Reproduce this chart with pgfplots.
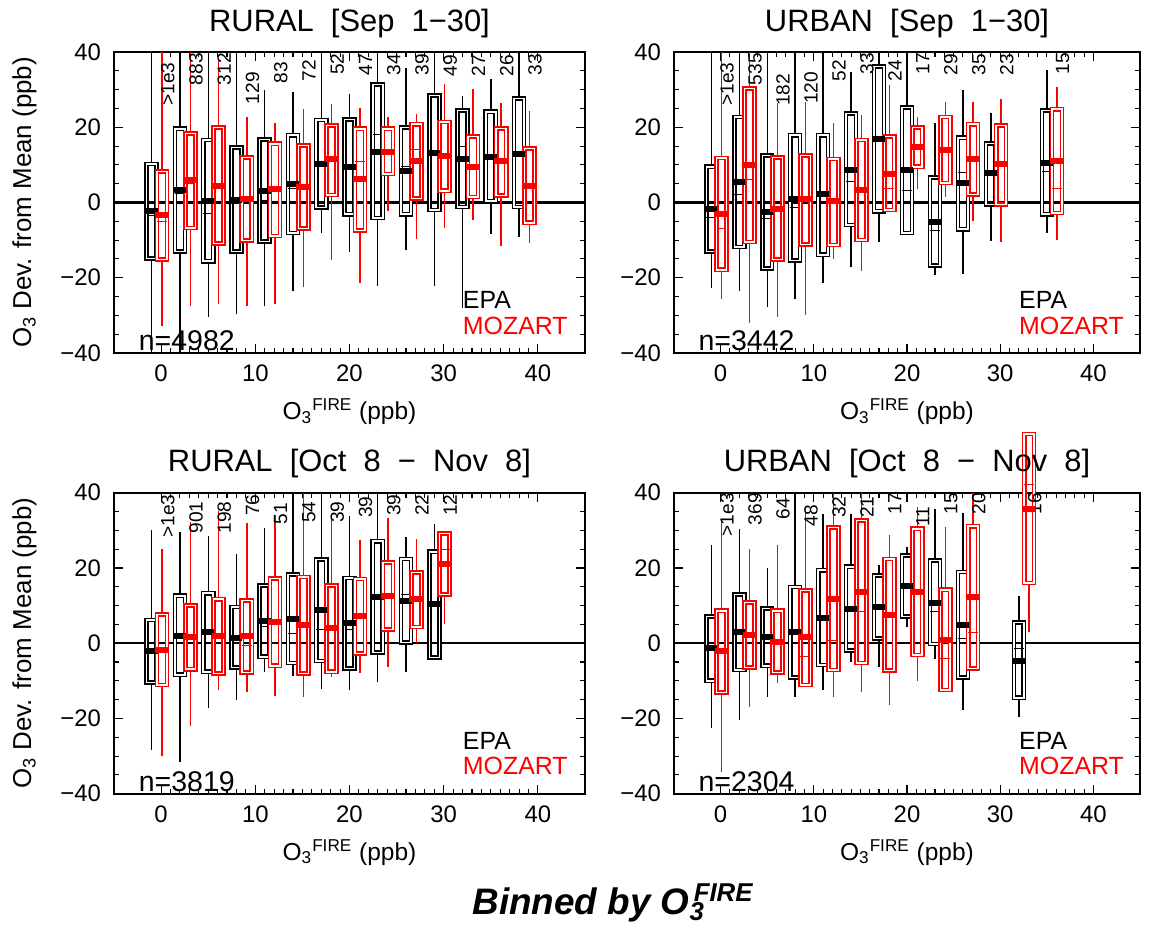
\documentclass[border=0pt]{standalone}
\usepackage{pgfplots}
\pgfplotsset{compat=1.18}
\usepackage{pgfplotstable}
\usepgfplotslibrary{statistics}
\usepackage{fontspec}
\setmainfont{Liberation Sans}

% columns: draw position, lower whisker, lower quartile, median, upper quartile, upper whisker, mean
\pgfplotstableread{
x wlo q1 med q3 whi avg
-1 -40 -14.9 -3.5 10.2 40 -2.2
2 -40 -13.0 2.4 19.6 40 3.3
5 -30.5 -15.6 -2.8 16.6 40 0.4
8 -29.6 -13.0 -0.3 14.6 40 0.6
11 -27.6 -10.3 0.6 16.8 30.0 3.1
14 -23.4 -8.1 3.7 17.9 29.5 4.9
17 -8.0 -1.3 10.2 21.9 40 10.2
20 -13.2 -3.1 9.4 22.1 28.8 9.4
23 -22.2 -4.1 18.1 31.3 40 13.4
26 -12.7 -3.1 9.5 20.0 35.7 8.5
29 -22.2 -2.0 13.2 28.5 40 13.2
32 -28.0 -1.2 14.8 24.4 28.2 11.6
35 -8.3 0.4 12.2 24.1 32.9 12.2
38 -9.2 -1.2 12.9 27.6 40 12.9
}\tAe
\pgfplotstableread{
x wlo q1 med q3 whi avg
0.1 -32.7 -15.1 -5.0 8.2 40 -3.2
3.1 -27.4 -6.8 5.0 18.3 40 6.0
6.1 -26.9 -10.9 4.0 19.9 38 4.5
9.1 -27.6 -10.1 1.0 11.9 22.8 0.8
12.1 -26.9 -8.9 3.2 15.6 21.2 3.5
15.1 -22.5 -6.9 4.2 15.2 24.9 4.2
18.1 -15.4 2.0 11.5 20.5 26.1 11.5
21.1 -21.4 -7.4 11.0 19.6 25.1 6.3
24.1 -2.2 7.6 14.0 19.6 22.8 13.5
27.1 -9.6 1.1 14.0 20.8 23.6 11.0
30.1 -6.8 3.1 12.4 21.4 31.6 12.4
33.1 -4.7 1.5 9.5 17.5 30.2 9.5
36.1 -11.6 1.9 10.9 19.7 26.4 10.9
39.1 -10.8 -5.4 4.4 14.3 24.2 4.4
}\tAm
\pgfplotstableread{
x wlo q1 med q3 whi avg
-1 -22.7 -13.0 -4.0 9.5 40 -1.8
2 -23.6 -11.8 2.0 22.7 40 5.5
5 -27.8 -17.6 -4.3 12.5 40 -2.5
8 -25.7 -15.4 -1.2 17.9 40 0.9
11 -21.3 -13.9 2.2 17.9 40 2.2
14 -17.2 -6.0 5.5 23.6 34.8 8.6
17 -10.5 -2.3 16.9 36.2 40 16.9
20 -8.7 -8.1 3.3 25.2 40 8.6
23 -19.4 -16.7 -7.4 6.7 21.1 -5.1
26 -18.9 -7.1 7.9 17.2 29.8 5.1
29 -10.3 -0.5 7.9 15.7 23.8 7.9
35 -8.1 -3.1 8.2 24.4 35.3 10.4
}\tBe
\pgfplotstableread{
x wlo q1 med q3 whi avg
0.1 -25.7 -17.9 -6.9 11.8 40 -3.1
3.1 -32.1 -10.5 6.0 30.3 40 9.9
6.1 -30.5 -15.1 -1.6 11.9 26.4 -1.6
9.1 -30.0 -11.2 0.8 12.5 26.8 0.8
12.1 -15.1 -11.3 0.3 11.6 21.1 0.3
15.1 -18.2 -10.0 3.0 16.6 23.3 3.3
18.1 -2.2 -2.0 3.7 17.5 31.1 7.7
21.1 3.7 9.5 14.8 19.9 22.7 14.8
24.1 1.5 5.2 14.0 22.7 26.8 14.0
27.1 -4.9 2.1 11.5 20.8 26.8 11.5
30.1 -10.5 -0.5 10.1 20.4 27.6 10.1
36.1 -10.0 -2.8 3.7 24.8 30.8 11.1
}\tBm
\pgfplotstableread{
x wlo q1 med q3 whi avg
-1 -28.3 -10.5 -2.0 6.2 30.2 -2.0
2 -31.7 -8.4 2.0 12.6 29.6 2.0
5 -17.3 -7.6 2.9 13.3 28.4 2.9
8 -15.1 -6.4 1.3 9.6 23.8 1.3
11 -7.6 -3.6 4.4 15.3 30.7 6.0
14 -8.6 -5.3 2.7 18.2 40 6.4
17 -12.2 -4.7 3.7 22.2 40 8.7
20 -12.4 -6.7 3.6 17.3 33.8 5.3
23 -10.2 -2.5 12.3 27.1 40 12.3
26 -7.6 0.2 12.9 22.4 28.2 11.3
29 -4.0 -3.8 10.4 24.3 31.6 10.4
}\tCe
\pgfplotstableread{
x wlo q1 med q3 whi avg
0.1 -30.0 -11.1 -1.8 7.6 25.1 -1.8
3.1 -22.0 -6.9 1.6 10.0 32.3 1.6
6.1 -12.4 -8.0 2.0 11.7 35.1 2.0
9.1 -13.1 -7.8 -0.5 11.4 32.0 2.0
12.1 -14.0 -6.0 5.6 17.2 34.0 5.6
15.1 -14.2 -8.0 4.9 17.6 40 4.9
18.1 -9.1 -7.6 4.0 15.3 34.0 4.0
21.1 -8.0 -2.7 7.1 17.1 27.3 7.1
24.1 -6.2 3.6 12.6 21.5 33.3 12.6
27.1 0.0 4.3 11.7 18.8 27.7 11.7
30.1 5.2 12.9 24.9 29.2 29.2 21.0
}\tCm
\pgfplotstableread{
x wlo q1 med q3 whi avg
-1 -22.5 -10.0 -1.3 7.1 26.0 -1.3
2 -20.3 -7.1 2.9 12.9 30.4 2.9
5 -14.2 -6.0 1.6 9.2 20.0 1.6
8 -14.2 -9.1 3.1 14.9 40 3.1
11 -12.4 -5.8 6.8 19.4 34.4 6.8
14 -4.9 -2.0 9.1 20.3 34.4 9.1
17 -6.2 1.2 9.6 18.0 20.9 9.6
20 4.4 7.1 15.1 23.3 25.6 15.1
23 -4.3 -0.2 8.4 22.0 35.6 10.7
26 -17.8 -9.1 1.3 18.9 34.7 4.9
32 -19.7 -14.5 -1.3 5.5 12.6 -4.6
}\tDe
\pgfplotstableread{
x wlo q1 med q3 whi avg
0.1 -34.2 -13.1 -2.0 8.6 33.1 -2.0
3.1 -16.9 -6.4 2.2 10.8 25.1 2.2
6.1 -10.7 -7.8 0.4 8.6 26.2 0.4
9.1 -11.1 -11.1 -3.6 14.0 36.2 1.6
12.1 -14.2 -7.1 0.7 30.8 40 11.7
15.1 -13.1 -5.3 8.3 32.6 40 13.6
18.1 -16.4 -7.3 7.4 22.4 28.8 7.4
21.1 -10.0 -3.1 13.6 30.4 36.3 13.6
24.1 -12.4 -12.4 -4.0 14.2 30.9 0.9
27.1 -6.7 -6.7 2.8 31.1 40 12.4
33.1 3.1 16.0 42.2 55.6 55.6 35.7
}\tDm

% #1 table, #2 box style, #3 mean-mark style
\newcommand\drawboxes[3]{%
  \pgfplotstablegetrowsof{#1}%
  \pgfmathtruncatemacro\nRows{\pgfplotsretval-1}%
  \pgfplotsforeachungrouped \i in {0,...,\nRows}{%
    \pgfplotstablegetelem{\i}{x}\of{#1}\let\bX\pgfplotsretval
    \pgfplotstablegetelem{\i}{wlo}\of{#1}\let\bA\pgfplotsretval
    \pgfplotstablegetelem{\i}{q1}\of{#1}\let\bB\pgfplotsretval
    \pgfplotstablegetelem{\i}{med}\of{#1}\let\bC\pgfplotsretval
    \pgfplotstablegetelem{\i}{q3}\of{#1}\let\bD\pgfplotsretval
    \pgfplotstablegetelem{\i}{whi}\of{#1}\let\bE\pgfplotsretval
    \edef\doplot{\noexpand\addplot[#2, boxplot prepared={draw direction=y, draw position=\bX, lower whisker=\bA, lower quartile=\bB, median=\bC, upper quartile=\bD, upper whisker=\bE}] coordinates {};}%
    \doplot
  }%
  \addplot[#3] table[x=x, y=avg] {#1};
}

\pgfplotsset{
  panel/.style={
    scale only axis, height=150.5bp,
    xmin=-5, xmax=45, ymin=-40, ymax=40,
    boxplot/draw direction=y,
    xtick={0,10,20,30,40}, xticklabels={0,10,20,30,40},
    ytick={-40,-20,0,20,40}, yticklabels={−40,−20,0,20,40},
    minor x tick num=9, minor y tick num=3,
    tick align=inside, tick pos=both,
    major tick length=4.5bp, minor tick length=2.4bp,
    axis line style={line width=0.9bp},
    every tick/.append style={line width=0.55bp, black},
    tick label style={font=\fontsize{12}{13}\selectfont},
    xticklabel style={yshift=-2.5bp}, yticklabel style={xshift=-3bp},
    /pgf/number format/assume math mode=true,
    title style={at={(0.5,1)}, anchor=center, yshift=8.5bp, font=\fontsize{15.5}{16}\selectfont},
    xlabel={O\textsubscript{3}\textsuperscript{FIRE} (ppb)},
    xlabel style={at={(axis description cs:0.5,-0.195)}, anchor=center, font=\fontsize{12.3}{13}\selectfont},
    ylabel style={at={(axis description cs:-0.19,0.5)}, anchor=center, font=\fontsize{13}{14}\selectfont},
    clip=false,
    boxplot/box extend=1.06,
    boxplot/whisker extend=0,
  },
  epabox/.style={black, line width=0.7bp, mark=none,
    boxplot/every box/.style={draw=black, line width=0.8bp, double=white, double distance=0.75bp},
    boxplot/every median/.style={draw=black, line width=0.5bp},
  },
  mozbox/.style={red, line width=0.7bp, mark=none,
    boxplot/every box/.style={draw=red, line width=0.8bp, double=white, double distance=0.75bp},
    boxplot/every median/.style={draw=red, line width=0.5bp},
  },
  epamean/.style={black, only marks, mark=-, mark size=3bp, mark options={line width=3bp}},
  mozmean/.style={red, only marks, mark=-, mark size=3.5bp, mark options={line width=3bp}},
}
\tikzset{
  cnt/.style={rotate=90, anchor=east, inner sep=0pt, font=\fontsize{9.6}{10}\selectfont},
  leg/.style={anchor=west, inner sep=0pt, font=\fontsize{12.5}{13}\selectfont},
  nlab/.style={anchor=west, inner sep=0pt, font=\fontsize{14.3}{15}\selectfont},
}

\begin{document}
\begin{tikzpicture}
\useasboundingbox (0,0) rectangle (576.5bp,-464.5bp);

% ---------- RURAL Sep ----------
\begin{axis}[panel, width=235.5bp, at={(57bp,-26bp)}, anchor=north west,
  title={RURAL\ \ [Sep\ \ 1−30]},
  ylabel={O\textsubscript{3} Dev. from Mean (ppb)}]
\addplot[black, line width=1.1bp, forget plot] coordinates {(-5,0) (45,0)};
\drawboxes{\tAe}{epabox}{epamean}
\drawboxes{\tAm}{mozbox}{mozmean}
\node[cnt] at (axis cs:0.7,37.3) {>1e3};
\node[cnt] at (axis cs:3.7,39.8) {883};
\node[cnt] at (axis cs:6.7,39.8) {312};
\node[cnt] at (axis cs:9.7,34.7) {129};
\node[cnt] at (axis cs:12.7,37.4) {83};
\node[cnt] at (axis cs:15.7,37.9) {72};
\node[cnt] at (axis cs:18.7,39.7) {52};
\node[cnt] at (axis cs:21.7,39.5) {47};
\node[cnt] at (axis cs:24.7,39.5) {34};
\node[cnt] at (axis cs:27.7,39.5) {39};
\node[cnt] at (axis cs:30.7,39.3) {49};
\node[cnt] at (axis cs:33.7,39.3) {27};
\node[cnt] at (axis cs:36.7,39.3) {26};
\node[cnt] at (axis cs:39.7,39.5) {33};
\node[leg] at (axis cs:32,-26) {EPA};
\node[leg, text=red] at (axis cs:32,-32.7) {MOZART};
\node[nlab] at (axis cs:-2.4,-36.8) {n=4982};
\end{axis}

% ---------- URBAN Sep ----------
\begin{axis}[panel, width=233bp, at={(337bp,-26bp)}, anchor=north west,
  title={URBAN\ \ [Sep\ \ 1−30]}]
\addplot[black, line width=1.1bp, forget plot] coordinates {(-5,0) (45,0)};
\drawboxes{\tBe}{epabox}{epamean}
\drawboxes{\tBm}{mozbox}{mozmean}
\node[cnt] at (axis cs:0.7,37.3) {>1e3};
\node[cnt] at (axis cs:3.7,39.8) {535};
\node[cnt] at (axis cs:6.7,34.3) {182};
\node[cnt] at (axis cs:9.7,34.8) {120};
\node[cnt] at (axis cs:12.7,38) {52};
\node[cnt] at (axis cs:15.7,39.8) {33};
\node[cnt] at (axis cs:18.7,38) {24};
\node[cnt] at (axis cs:21.7,39.8) {17};
\node[cnt] at (axis cs:24.7,39.6) {29};
\node[cnt] at (axis cs:27.7,39.6) {35};
\node[cnt] at (axis cs:30.7,39.6) {23};
\node[cnt] at (axis cs:36.7,39.8) {15};
\node[leg] at (axis cs:32,-26) {EPA};
\node[leg, text=red] at (axis cs:32,-32.7) {MOZART};
\node[nlab] at (axis cs:-2.4,-36.8) {n=3442};
\end{axis}

% ---------- RURAL Oct-Nov ----------
\begin{axis}[panel, width=235.5bp, at={(57bp,-246.35bp)}, anchor=north west,
  title={RURAL\ \ [Oct\ \ 8\ \ −\ \ Nov\ \ 8]},
  ylabel={O\textsubscript{3} Dev. from Mean (ppb)}]
\addplot[black, line width=1.1bp, forget plot] coordinates {(-5,0) (45,0)};
\drawboxes{\tCe}{epabox}{epamean}
\drawboxes{\tCm}{mozbox}{mozmean}
\node[cnt] at (axis cs:0.7,39.6) {>1e3};
\node[cnt] at (axis cs:3.7,37.8) {901};
\node[cnt] at (axis cs:6.7,37.8) {198};
\node[cnt] at (axis cs:9.7,39.6) {76};
\node[cnt] at (axis cs:12.7,37.3) {51};
\node[cnt] at (axis cs:15.7,37.8) {54};
\node[cnt] at (axis cs:18.7,37.8) {39};
\node[cnt] at (axis cs:21.7,39.1) {39};
\node[cnt] at (axis cs:24.7,39.6) {39};
\node[cnt] at (axis cs:27.7,39.6) {22};
\node[cnt] at (axis cs:30.7,39.6) {12};
\node[leg] at (axis cs:32,-26) {EPA};
\node[leg, text=red] at (axis cs:32,-32.7) {MOZART};
\node[nlab] at (axis cs:-2.4,-36.8) {n=3819};
\end{axis}

% ---------- URBAN Oct-Nov ----------
\begin{axis}[panel, width=233bp, at={(337bp,-246.35bp)}, anchor=north west,
  title={URBAN\ \ [Oct\ \ 8\ \ −\ \ Nov\ \ 8]}]
\addplot[black, line width=1.1bp, forget plot] coordinates {(-5,0) (45,0)};
\drawboxes{\tDe}{epabox}{epamean}
\drawboxes{\tDm}{mozbox}{mozmean}
\node[cnt] at (axis cs:0.7,40) {>1e3};
\node[cnt] at (axis cs:3.7,40) {369};
\node[cnt] at (axis cs:6.7,38.7) {64};
\node[cnt] at (axis cs:9.7,36.9) {48};
\node[cnt] at (axis cs:12.7,39.1) {32};
\node[cnt] at (axis cs:15.7,39.1) {21};
\node[cnt] at (axis cs:18.7,40) {17};
\node[cnt] at (axis cs:21.7,36.4) {11};
\node[cnt] at (axis cs:24.7,40) {15};
\node[cnt] at (axis cs:27.7,40) {20};
\node[cnt] at (axis cs:33.7,40) {16};
\node[leg] at (axis cs:32,-26) {EPA};
\node[leg, text=red] at (axis cs:32,-32.7) {MOZART};
\node[nlab] at (axis cs:-2.4,-36.8) {n=2304};
\end{axis}

\node[font=\bfseries\itshape\fontsize{18.5}{20}\selectfont] at (306.5bp,-451.5bp)
  {Binned by O\textsubscript{3}\kern-0.3em\textsuperscript{FIRE}};
\end{tikzpicture}
\end{document}
